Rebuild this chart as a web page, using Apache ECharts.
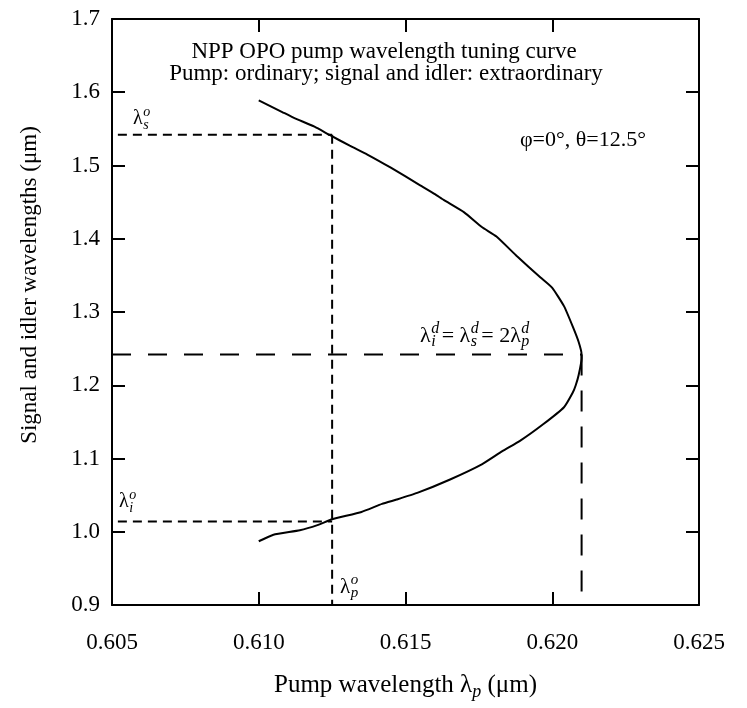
<!DOCTYPE html>
<html>
<head>
<meta charset="utf-8">
<script src="https://cdn.jsdelivr.net/npm/echarts@6/dist/echarts.min.js"></script>
<style>
  html, body { margin: 0; padding: 0; background: #fff; }
  #main { width: 747px; height: 708px; }
</style>
</head>
<body>
<div id="main"></div>
<script>
// 泵浦波长 (µm) 与信号/闲频波长 (µm)，沿曲线从上到下
const pumpWl = [
  0.6100, 0.6108, 0.6112, 0.6119, 0.6124, 0.6131, 0.6137, 0.6145, 0.6155, 0.6160,
  0.6163, 0.6170, 0.6176, 0.6181, 0.6188, 0.6196, 0.6200, 0.6204, 0.6207, 0.6209,
  0.6210, 0.6210, 0.6209, 0.6208, 0.6207, 0.6204, 0.6197, 0.6189, 0.6183, 0.6176,
  0.6165, 0.6154, 0.6147, 0.6142, 0.6135, 0.6125, 0.6120, 0.6114, 0.6105, 0.6100
]
const sigIdlWl = [
  1.589, 1.573, 1.565, 1.553, 1.542, 1.527, 1.515, 1.497, 1.473, 1.461,
  1.453, 1.436, 1.416, 1.403, 1.376, 1.347, 1.333, 1.308, 1.280, 1.259,
  1.242, 1.237, 1.214, 1.200, 1.190, 1.170, 1.147, 1.124, 1.110, 1.092,
  1.071, 1.053, 1.044, 1.038, 1.027, 1.017, 1.009, 1.002, 0.996, 0.987
]

// 轴范围
const xRange = [0.605, 0.625]
const yRange = [0.9, 1.7]

// 参考线的位置
const lamPo = 0.6125   // λp^o
const lamSo = 1.542    // λs^o
const lamIo = 1.014    // λi^o
const lamPd = 0.621    // λp^d
const lamD = 1.242     // λi^d = λs^d
const dashStart = 0.6052

const FONT = '"Liberation Serif", "Times New Roman", serif'

const chart = echarts.init(document.getElementById('main'))

// 测量文字宽度
const cv = document.createElement('canvas').getContext('2d')
const measure = (t, size, italic) => {
  cv.font = (italic ? 'italic ' : '') + size + 'px ' + FONT
  return cv.measureText(t).width
}

// 画 λ 加上下标
const sym = (els, x, y, sup, sub, prefix, size, gap) => {
  const t = prefix + 'λ'
  els.push({ type: 'text', x: x, y: y, style: { text: t, font: size + 'px ' + FONT, fill: '#000', align: 'left', verticalAlign: 'middle' } })
  const w = measure(t, size, false)
  const s = Math.round(size * 0.72)
  els.push({ type: 'text', x: x + w + 0.5, y: y - 7, style: { text: sup, font: 'italic ' + s + 'px ' + FONT, fill: '#000', align: 'left', verticalAlign: 'middle' } })
  els.push({ type: 'text', x: x + w + 0.5, y: y + 6, style: { text: sub, font: 'italic ' + s + 'px ' + FONT, fill: '#000', align: 'left', verticalAlign: 'middle' } })
  return x + w + Math.max(measure(sup, s, true), measure(sub, s, true)) + (gap || 1)
}

const texts = []
sym(texts, 133, 119, 'o', 's', '', 20)
sym(texts, 119, 502, 'o', 'i', '', 20)
sym(texts, 340, 587, 'o', 'p', '', 21)
let cur = sym(texts, 420, 336, 'd', 'i', '', 22, 3)
cur = sym(texts, cur, 336, 'd', 's', '= ', 22, 3)
sym(texts, cur, 336, 'd', 'p', '= 2', 22, 3)

const graphics = [
  { type: 'text', x: 384, y: 52, style: { text: 'NPP OPO pump wavelength tuning curve', font: '23px ' + FONT, fill: '#000', align: 'center', verticalAlign: 'middle' } },
  { type: 'text', x: 386, y: 74, style: { text: 'Pump: ordinary; signal and idler: extraordinary', font: '23px ' + FONT, fill: '#000', align: 'center', verticalAlign: 'middle' } },
  { type: 'text', x: 583, y: 140, style: { text: 'φ=0°, θ=12.5°', font: '22px ' + FONT, fill: '#000', align: 'center', verticalAlign: 'middle' } },
  { type: 'text', x: 30, y: 285, rotation: Math.PI / 2, style: { text: 'Signal and idler wavelengths (μm)', font: '23px ' + FONT, fill: '#000', align: 'center', verticalAlign: 'middle' } }
].concat(texts)

const axisCommon = {
  type: 'value',
  splitLine: { show: false },
  axisLine: { show: true, onZero: false, lineStyle: { color: '#000', width: 2 } },
  axisTick: { show: true, inside: true, length: 13, lineStyle: { color: '#000', width: 2 } }
}

const dashed = (data, dash) => ({
  type: 'line',
  data: data,
  showSymbol: false,
  symbol: 'none',
  silent: true,
  lineStyle: { color: '#000', width: 2, type: dash },
  z: 1
})

const option = {
  animation: false,
  backgroundColor: '#fff',
  grid: { left: 112, right: 48, top: 19, bottom: 103 },
  xAxis: [
    Object.assign({}, axisCommon, {
      position: 'bottom',
      min: xRange[0], max: xRange[1], interval: 0.005,
      axisLabel: { fontFamily: FONT, fontSize: 23, color: '#000', margin: 26, formatter: v => v.toFixed(3) },
      name: '{a|Pump wavelength λ}{s|p}{a| (μm)}',
      nameLocation: 'middle',
      nameGap: 64,
      nameTextStyle: {
        rich: {
          a: { fontFamily: FONT, fontSize: 25, color: '#000', lineHeight: 32 },
          s: { fontFamily: FONT, fontSize: 18, fontStyle: 'italic', color: '#000', lineHeight: 18, verticalAlign: 'bottom' }
        }
      }
    }),
    Object.assign({}, axisCommon, {
      position: 'top',
      min: xRange[0], max: xRange[1], interval: 0.005,
      axisLabel: { show: false }
    })
  ],
  yAxis: [
    Object.assign({}, axisCommon, {
      position: 'left',
      min: yRange[0], max: yRange[1], interval: 0.1,
      axisLabel: { fontFamily: FONT, fontSize: 23, color: '#000', margin: 12, formatter: v => v.toFixed(1) }
    }),
    Object.assign({}, axisCommon, {
      position: 'right',
      min: yRange[0], max: yRange[1], interval: 0.1,
      axisLabel: { show: false }
    })
  ],
  series: [
    {
      type: 'line',
      data: pumpWl.map((p, i) => [p, sigIdlWl[i]]),
      showSymbol: false,
      symbol: 'none',
      smooth: 0.15,
      lineStyle: { color: '#000', width: 2 },
      z: 3
    },
    dashed([[dashStart, lamSo], [lamPo, lamSo]], [9, 6]),
    dashed([[lamPo, lamSo], [lamPo, yRange[0]]], [9, 6]),
    dashed([[dashStart, lamIo], [lamPo, lamIo]], [9, 6]),
    dashed([[xRange[0], lamD], [lamPd, lamD]], [19, 17]),
    dashed([[lamPd, lamD], [lamPd, yRange[0]]], [21, 15])
  ],
  graphic: graphics
}

chart.setOption(option)
</script>
</body>
</html>
